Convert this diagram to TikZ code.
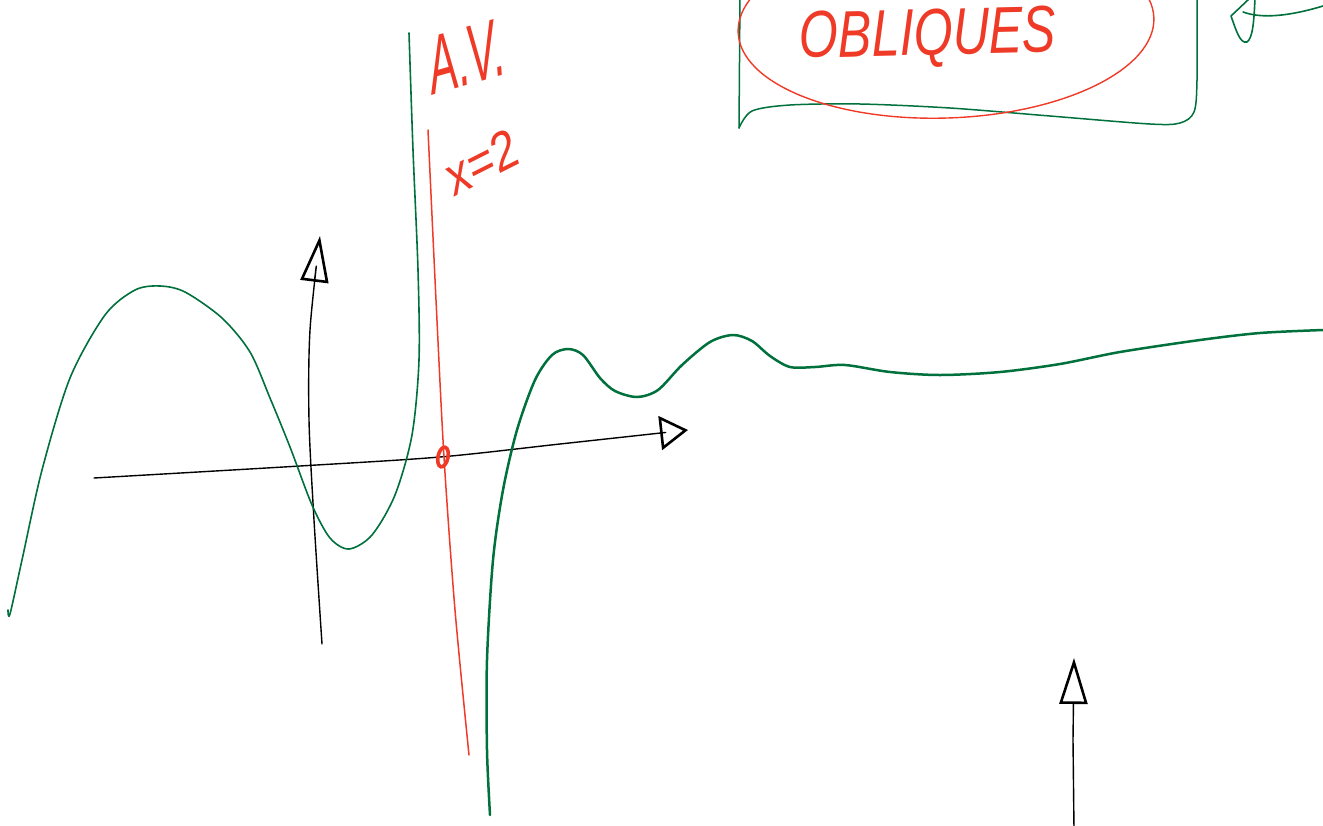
\documentclass[tikz,border=0pt]{standalone}
\usepackage{fontspec}
\newfontfamily\handfont{Liberation Sans}
\usetikzlibrary{arrows.meta}
\definecolor{penred}{RGB}{238,58,38}
\definecolor{pengreen}{RGB}{0,112,60}

\begin{document}
\begin{tikzpicture}[
    x=1pt, y=-1pt,
    axis/.style={draw=black, line width=1.4pt, line cap=round, line join=round},
    uptip/.style={-{Triangle[open, length=46pt, width=28pt, line width=2.6pt]}},
    righttip/.style={-{Triangle[open, length=28pt, width=34pt, line width=2.6pt]}},
    graph/.style={draw=pengreen, line width=1.6pt, line cap=round, line join=round},
    boldgraph/.style={graph, line width=2.5pt},
    asymptote/.style={draw=penred, line width=1.5pt, line cap=round},
    frame/.style={draw=pengreen, line width=1.5pt, line cap=round},
    halo/.style={draw=penred, line width=1.4pt},
    scribble/.style={text=penred, inner sep=0pt, font=\handfont}
]

% Stable crop.
\path[use as bounding box] (0,0) rectangle (1323,825);
\clip (0,0) rectangle (1323,825);

% --------------------------------------------------
% Axes
% --------------------------------------------------
\draw[axis, righttip] plot[smooth] coordinates
    {(94,478) (300,466) (440,457) (560,444) (688,430)};
\draw[axis, uptip] plot[smooth] coordinates
    {(322,644) (314,520) (309,420) (310,330) (320,236)};
\draw[axis, uptip] (1074,830) -- (1073,740) -- (1074,658);

% --------------------------------------------------
% Vertical asymptote and its label
% --------------------------------------------------
\draw[asymptote] plot[smooth] coordinates
    {(428,130) (436,300) (444,457) (455,610) (469,755)};
\draw[penred, line width=3.6pt, rotate around={-12:(443,457)}]
    (443,457) ellipse [x radius=5pt, y radius=10pt];

\node[scribble, font=\handfont\fontsize{84}{84}\selectfont,
    xscale=0.5, rotate=8] (av) at (467,56) {A.V.};
\node[scribble, font=\handfont\fontsize{56}{56}\selectfont,
    xscale=0.8, rotate=22] (xeq) at (482,162) {x=2};

% --------------------------------------------------
% Curves
% --------------------------------------------------
\draw[graph] plot[smooth] coordinates
    {(8,610) (10,614) (22,560) (42,470) (70,378) (105,315) (135,290) (160,286)
     (185,292) (222,318) (250,352) (270,398) (290,447) (312,505) (330,538)
     (349,549) (372,535) (395,495) (412,435) (419,360) (418,270) (413,150)
     (409,33)};
\draw[boldgraph] plot[smooth] coordinates
    {(490,815) (487,750) (487,660) (493,560) (503,490) (517,430) (535,380)
     (552,355) (568,349) (583,355) (600,378) (615,391) (637,397) (658,390)
     (682,365) (710,342) (733,335) (752,341) (770,356) (790,367) (815,367)
     (845,365) (890,372) (940,375) (1000,372) (1060,364) (1120,352)
     (1200,340) (1260,333) (1323,330)};

% --------------------------------------------------
% Boxed title, top right
% --------------------------------------------------
\draw[frame] (740,-5) -- (739,128);
\draw[frame] plot[smooth] coordinates
    {(739,128) (752,111) (790,105) (860,104) (950,108) (1050,116)
     (1150,124) (1180,123) (1194,112) (1197,80) (1197,-5)};
\draw[halo, rotate around={2:(946,25)}]
    (946,25) ellipse [x radius=208pt, y radius=93pt];
\node[scribble, font=\handfont\itshape\fontsize{66}{66}\selectfont,
    xscale=0.76, rotate=1, anchor=base] (obliques) at (928,55) {OBLIQUES};

% Partial sketch at the right edge.
\draw[graph] (1323,6) .. controls (1290,16) and (1262,19) .. (1243,12);
\draw[graph] (1250,-2) -- (1231,16) .. controls (1236,30) and (1240,44) ..
    (1247,42) .. controls (1253,38) and (1254,20) .. (1255,-2);

\end{tikzpicture}
\end{document}
